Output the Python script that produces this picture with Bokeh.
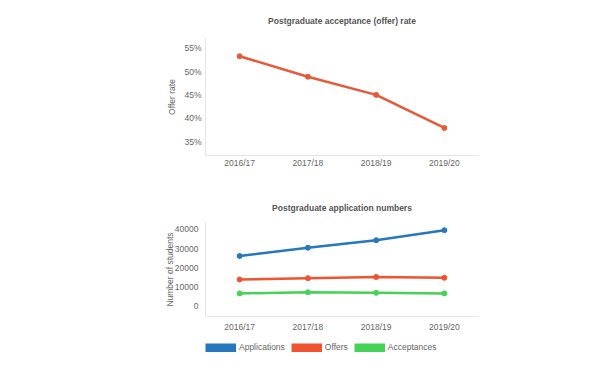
from bokeh.plotting import figure
from bokeh.models import FactorRange, Range1d, FixedTicker, NumeralTickFormatter, Legend, LegendItem, ColumnDataSource
from bokeh.layouts import column
from bokeh.embed import file_html
from bokeh.resources import INLINE

years = ["2016/17", "2017/18", "2018/19", "2019/20"]
offer_rate = [0.533, 0.489, 0.450, 0.379]
applications = [26200, 30500, 34400, 39600]
offers = [14000, 14700, 15300, 14900]
acceptances = [6800, 7400, 7100, 6800]
rate_ticks = [0.35, 0.40, 0.45, 0.50, 0.55]
count_ticks = [0, 10000, 20000, 30000, 40000]

FONT = "Liberation Sans"
GRAY = "#666666"
AXIS = "#e6e6e6"
C_RATE = "#e65a38"
C_APP = "#2777bd"
C_OFF = "#ef5331"
C_ACC = "#45d257"


def style(p):
    p.title.text_font = FONT
    p.title.text_font_size = "8.5px"
    p.title.text_color = "#555555"
    p.title.align = "center"
    p.title.vertical_align = "top"
    p.outline_line_color = None
    p.xgrid.grid_line_color = None
    p.ygrid.grid_line_color = None
    for ax in (p.xaxis[0], p.yaxis[0]):
        ax.axis_line_color = AXIS
        ax.major_tick_line_color = None
        ax.minor_tick_line_color = None
        ax.major_tick_out = 0
        ax.major_tick_in = 0
        ax.minor_tick_out = 0
        ax.minor_tick_in = 0
        ax.major_label_text_font = FONT
        ax.major_label_text_font_size = "8.5px"
        ax.major_label_text_color = GRAY
        ax.axis_label_text_font = FONT
        ax.axis_label_text_font_size = "8.5px"
        ax.axis_label_text_color = GRAY
        ax.axis_label_text_font_style = "normal"


p1 = figure(width=600, height=180, x_range=FactorRange(*years, range_padding=0),
            y_range=Range1d(0.32, 0.571), output_backend="svg", toolbar_location=None,
            title="Postgraduate acceptance (offer) rate",
            min_border_left=197, min_border_right=122, min_border_top=38, min_border_bottom=25)
style(p1)
p1.title.standoff = 22
p1.xaxis[0].major_label_standoff = 2
p1.yaxis[0].major_label_standoff = 4
p1.yaxis[0].axis_label_standoff = 4
p1.yaxis[0].ticker = FixedTicker(ticks=rate_ticks)
p1.yaxis[0].formatter = NumeralTickFormatter(format="0%")
p1.yaxis[0].axis_label = "Offer rate"
src1 = ColumnDataSource(dict(x=years, y=offer_rate))
p1.line("x", "y", source=src1, line_color=C_RATE, line_width=2.5)
p1.scatter("x", "y", source=src1, size=5, color=C_RATE)

p2 = figure(width=600, height=160, x_range=FactorRange(*years, range_padding=0),
            y_range=Range1d(-5200, 43600), output_backend="svg", toolbar_location=None,
            title="Postgraduate application numbers",
            min_border_left=204, min_border_right=122, min_border_top=42, min_border_bottom=24)
style(p2)
p2.title.standoff = 15
p2.xaxis[0].major_label_standoff = 5
p2.yaxis[0].ticker = FixedTicker(ticks=count_ticks)
p2.yaxis[0].formatter = NumeralTickFormatter(format="0")
p2.yaxis[0].axis_label = "Number of students"
p2.yaxis[0].major_label_standoff = 7
p2.yaxis[0].axis_label_standoff = -3

series = (("Applications", applications, C_APP),
          ("Offers", offers, C_OFF),
          ("Acceptances", acceptances, C_ACC))
for name, vals, col in series:
    s = ColumnDataSource(dict(x=years, y=vals))
    p2.line("x", "y", source=s, line_color=col, line_width=2.5)
    p2.scatter("x", "y", source=s, size=5, color=col)

# legend strip: key lines sit outside this strip's visible y-range
p3 = figure(width=600, height=20, output_backend="svg", toolbar_location=None,
            x_range=FactorRange(*years), y_range=Range1d(-2, -1),
            x_axis_type=None, y_axis_type=None,
            min_border_left=205, min_border_right=118, min_border_top=0, min_border_bottom=0)
p3.outline_line_color = None
p3.xgrid.grid_line_color = None
p3.ygrid.grid_line_color = None
items = []
for name, vals, col in series:
    key = ColumnDataSource(dict(x=years, y=vals))
    r = p3.line("x", "y", source=key, line_color=col, line_width=9, line_cap="butt")
    items.append(LegendItem(label=name, renderers=[r]))
legend = Legend(items=items, orientation="horizontal", location=(0, 8),
                glyph_width=31, glyph_height=9, label_text_font=FONT,
                label_text_font_size="8.5px", label_text_color=GRAY,
                label_standoff=3, spacing=6, padding=0, margin=0,
                border_line_color=None, background_fill_alpha=0)
p3.add_layout(legend, "center")

layout = column(p1, p2, p3)
open("out.html", "w").write(file_html(layout, INLINE))
